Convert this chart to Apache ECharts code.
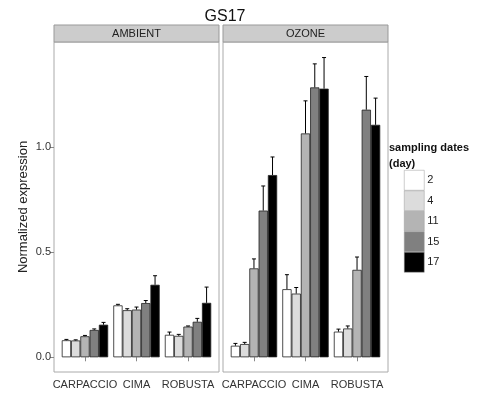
<!DOCTYPE html>
<html>
<head>
<meta charset="utf-8">
<script src="https://cdn.jsdelivr.net/npm/echarts@6/dist/echarts.min.js"></script>
<style>
  html, body { margin: 0; padding: 0; background: #fff; }
  #chart { width: 489px; height: 396px; }
</style>
</head>
<body>
<div id="chart"></div>
<script>
var categories = ["CARPACCIO", "CIMA", "ROBUSTA"];
var days = ["2", "4", "11", "15", "17"];
var dayColors = ["#ffffff", "#dcdcdc", "#b4b4b4", "#808080", "#000000"];
var yTicks = [0, 0.5, 1.0];

// rows = sampling day, columns = cultivar
var ambientMean = [
  [0.081, 0.247, 0.107],
  [0.080, 0.224, 0.102],
  [0.100, 0.227, 0.146],
  [0.130, 0.258, 0.169],
  [0.155, 0.345, 0.259]
];
var ambientErr = [
  [0.004, 0.005, 0.013],
  [0.003, 0.007, 0.007],
  [0.004, 0.012, 0.003],
  [0.005, 0.012, 0.016],
  [0.011, 0.043, 0.075]
];
var ozoneMean = [
  [0.055, 0.324, 0.122],
  [0.063, 0.303, 0.137],
  [0.423, 1.065, 0.416],
  [0.698, 1.284, 1.178],
  [0.867, 1.278, 1.106]
];
var ozoneErr = [
  [0.011, 0.069, 0.012],
  [0.008, 0.029, 0.012],
  [0.045, 0.155, 0.061],
  [0.117, 0.112, 0.158],
  [0.086, 0.148, 0.127]
];

var font = "Liberation Sans, Arial, sans-serif";
var panelTop = 42, panelBottom = 24, panelW = 165;
var panelLeft = [54, 223];
var inset = 5.2; // ggplot discrete expand 0.6

function errRender(params, api) {
  var x = api.value(0), m = api.value(1), e = api.value(2), d = api.value(3);
  var base = api.coord([x, m]);
  var top = api.coord([x, m + e]);
  var band = api.size([1, 0])[0];
  var bw = band * 0.9 / 5;
  var cx = base[0] + (d - 2) * bw;
  var st = { stroke: "#000", lineWidth: 1 };
  return {
    type: "group",
    children: [
      { type: "line", shape: { x1: cx, y1: base[1], x2: cx, y2: top[1] }, style: st },
      { type: "line", shape: { x1: cx - 2, y1: top[1], x2: cx + 2, y2: top[1] }, style: st }
    ]
  };
}

var series = [];
[ambientMean, ozoneMean].forEach(function (means, p) {
  days.forEach(function (d, i) {
    series.push({
      name: d,
      type: "bar",
      xAxisIndex: p,
      yAxisIndex: p,
      barGap: "0%",
      barCategoryGap: "10%",
      itemStyle: { color: dayColors[i], borderColor: "#222", borderWidth: 0.8 },
      data: means[i]
    });
  });
});
[[ambientMean, ambientErr], [ozoneMean, ozoneErr]].forEach(function (pair, p) {
  var data = [];
  for (var i = 0; i < days.length; i++) {
    for (var c = 0; c < categories.length; c++) {
      data.push([c, pair[0][i][c], pair[1][i][c], i]);
    }
  }
  series.push({
    type: "custom",
    xAxisIndex: p,
    yAxisIndex: p,
    renderItem: errRender,
    data: data,
    z: 3,
    silent: true
  });
});

function strip(x, label) {
  return {
    type: "group",
    children: [
      { type: "rect", shape: { x: x, y: 25, width: panelW, height: 17 },
        style: { fill: "#cccccc", stroke: "#999", lineWidth: 1 } },
      { type: "text", x: x + panelW / 2, y: 33.5,
        style: { text: label, fill: "#222", font: "11px " + font, align: "center", verticalAlign: "middle" } }
    ]
  };
}

var option = {
  animation: false,
  backgroundColor: "#fff",
  title: [
    { text: "GS17", left: 220, top: 4, textAlign: "center",
      textStyle: { fontFamily: font, fontSize: 16, fontWeight: "normal", color: "#111" } },
    { text: "sampling dates\n(day)", left: 389, top: 140, padding: 0,
      textStyle: { fontFamily: font, fontSize: 11, fontWeight: "bold", color: "#111", lineHeight: 16 } }
  ],
  legend: {
    data: days,
    orient: "vertical",
    left: 404,
    top: 170,
    padding: 0,
    itemWidth: 20,
    itemHeight: 20,
    itemGap: 0,
    icon: "rect",
    itemStyle: { borderColor: "#999", borderWidth: 0.5 },
    textStyle: { fontFamily: font, fontSize: 11, color: "#222", padding: [0, 0, 0, -2] },
    selectedMode: false
  },
  grid: [
    { left: panelLeft[0], top: panelTop, width: panelW, bottom: panelBottom, show: true, borderColor: "#aaa", borderWidth: 1, backgroundColor: "#fff" },
    { left: panelLeft[1], top: panelTop, width: panelW, bottom: panelBottom, show: true, borderColor: "#aaa", borderWidth: 1, backgroundColor: "#fff" },
    { left: panelLeft[0] + inset, top: panelTop, width: panelW - 2 * inset, bottom: panelBottom },
    { left: panelLeft[1] + inset, top: panelTop, width: panelW - 2 * inset, bottom: panelBottom }
  ],
  xAxis: [0, 1].map(function (p) {
    return {
      type: "category",
      gridIndex: p + 2,
      data: categories,
      axisLine: { show: false },
      axisTick: { show: true, alignWithLabel: true, length: 4, lineStyle: { color: "#888" } },
      axisLabel: { fontFamily: font, fontSize: 11, color: "#333", margin: 7, interval: 0, hideOverlap: false },
      splitLine: { show: false }
    };
  }),
  yAxis: [0, 1].map(function (p) {
    return {
      type: "value",
      gridIndex: p + 2,
      min: -0.07,
      max: 1.5,
      offset: inset,
      name: p === 0 ? "Normalized expression" : "",
      nameLocation: "middle",
      nameRotate: 90,
      nameGap: 24,
      nameTextStyle: { fontFamily: font, fontSize: 13, color: "#222" },
      axisLine: { show: false },
      splitLine: { show: false },
      axisTick: { show: p === 0, length: 4, lineStyle: { color: "#888" }, customValues: yTicks },
      axisLabel: { show: p === 0, fontFamily: font, fontSize: 11, color: "#333", margin: 3,
        customValues: yTicks, formatter: function (v) { return v.toFixed(1); } }
    };
  }),
  graphic: [strip(panelLeft[0], "AMBIENT"), strip(panelLeft[1], "OZONE")],
  series: series
};

var chart = echarts.init(document.getElementById("chart"), null, { renderer: "canvas" });
chart.setOption(option);
</script>
</body>
</html>
